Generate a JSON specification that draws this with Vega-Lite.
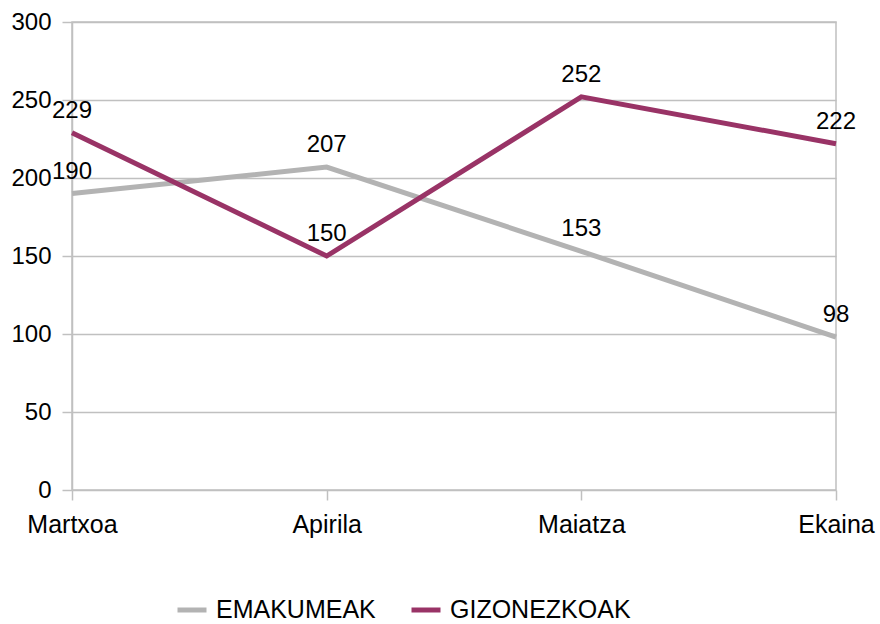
{
  "$schema": "https://vega.github.io/schema/vega-lite/v6.json",
  "width": 764,
  "height": 468,
  "autosize": {"type": "none"},
  "padding": {"left": 72, "top": 22, "right": 44, "bottom": 134},
  "background": "white",
  "config": {
    "font": "Liberation Sans",
    "view": {"stroke": "#c0c0c0", "strokeWidth": 1.5},
    "axis": {
      "labelFont": "Liberation Sans",
      "labelColor": "#000000",
      "gridColor": "#c0c0c0",
      "gridWidth": 1.5,
      "tickColor": "#c0c0c0",
      "tickWidth": 1.5,
      "tickSize": 10,
      "domainColor": "#c0c0c0",
      "domainWidth": 1.5,
      "title": null
    }
  },
  "data": {
    "values": [
      {"month": "Martxoa", "series": "EMAKUMEAK", "value": 190},
      {"month": "Apirila", "series": "EMAKUMEAK", "value": 207},
      {"month": "Maiatza", "series": "EMAKUMEAK", "value": 153},
      {"month": "Ekaina", "series": "EMAKUMEAK", "value": 98},
      {"month": "Martxoa", "series": "GIZONEZKOAK", "value": 229},
      {"month": "Apirila", "series": "GIZONEZKOAK", "value": 150},
      {"month": "Maiatza", "series": "GIZONEZKOAK", "value": 252},
      {"month": "Ekaina", "series": "GIZONEZKOAK", "value": 222}
    ]
  },
  "encoding": {
    "x": {
      "field": "month",
      "type": "nominal",
      "sort": ["Martxoa", "Apirila", "Maiatza", "Ekaina"],
      "scale": {"type": "point", "padding": 0},
      "axis": {"labelAngle": 0, "labelFontSize": 25, "labelPadding": 12, "grid": false, "labelOverlap": false, "labelBound": false, "domain": false}
    },
    "y": {
      "field": "value",
      "type": "quantitative",
      "scale": {"domain": [0, 300], "nice": false},
      "axis": {"values": [0, 50, 100, 150, 200, 250, 300], "labelFontSize": 24, "labelPadding": 11, "domain": true, "grid": true}
    }
  },
  "layer": [
    {
      "mark": {"type": "line", "strokeWidth": 5, "strokeCap": "butt", "strokeJoin": "miter"},
      "encoding": {
        "color": {
          "field": "series",
          "type": "nominal",
          "scale": {"domain": ["EMAKUMEAK", "GIZONEZKOAK"], "range": ["#b3b3b3", "#993366"]},
          "legend": {
            "title": null,
            "orient": "none",
            "direction": "horizontal",
            "legendX": 103,
            "legendY": 571,
            "symbolType": "stroke",
            "symbolSize": 841,
            "symbolStrokeWidth": 5,
            "labelFont": "Liberation Sans",
            "labelFontSize": 25,
            "labelColor": "#000000",
            "labelOffset": 7,
            "columnPadding": 25,
            "labelLimit": 400
          }
        }
      }
    },
    {
      "mark": {"type": "text", "dy": -22, "fontSize": 24, "font": "Liberation Sans", "color": "#000000", "baseline": "middle"},
      "encoding": {"text": {"field": "value", "type": "quantitative"}}
    }
  ]
}
